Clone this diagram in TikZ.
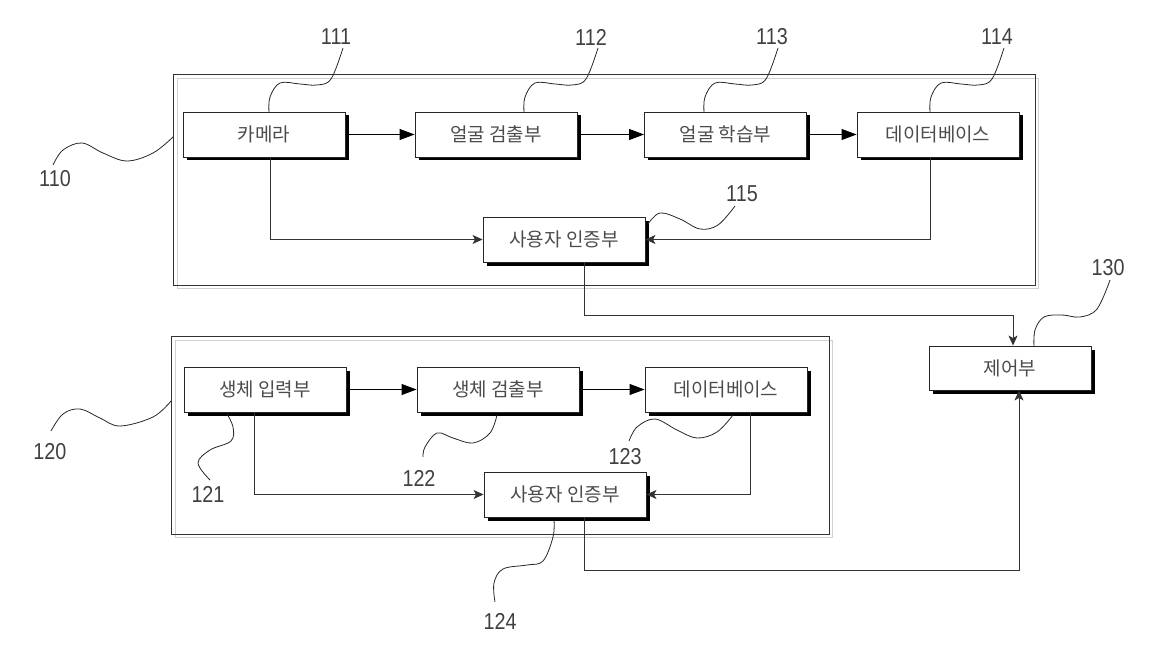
\documentclass[tikz,border=0pt]{standalone}
\usepackage{fontspec}
\newfontfamily\kr{Noto Sans CJK KR}
\newfontfamily\numf[FakeStretch=0.86]{Liberation Sans}
\usetikzlibrary{arrows.meta,shadows,calc}
\begin{document}
\begin{tikzpicture}[x=1pt,y=-1pt,
  box/.style={draw=black!85, fill=white, line width=0.9pt, minimum width=162pt, minimum height=45pt, inner sep=0pt,
    font=\kr\fontsize{19}{22}\selectfont, text=black!70,
    drop shadow={shadow xshift=3.5pt, shadow yshift=-3.5pt, fill=black, opacity=1}},
  frame/.style={draw=black!80, line width=0.9pt, inner sep=0pt},
  fshadow/.style={draw=black!18, line width=0.9pt},
  num/.style={font=\numf\fontsize{23}{26}\selectfont, text=black!75, inner sep=0pt},
  big/.style={-{Triangle[length=15pt,width=11pt]}, line width=0.9pt, black},
  small/.style={-{Stealth[length=10pt,width=9pt,inset=2.5pt]}, line width=0.9pt, black!80},
  lead/.style={line width=0.8pt, black!85},
]
\useasboundingbox (0,0) rectangle (1162,650);

% frames
\draw[fshadow] (177,78) rectangle (1038,288);
\draw[fshadow] (175,340) rectangle (832,537);
\node[frame, minimum width=862pt, minimum height=211pt] (f1) at (604,179.5) {};
\node[frame, minimum width=658pt, minimum height=198pt] (f2) at (500,435) {};

% boxes
\node[box] (cam) at (264,134.5) {카메라};
\node[box] (det) at (496,134.5) {얼굴 검출부};
\node[box] (lrn) at (725.5,134.5) {얼굴 학습부};
\node[box] (db1) at (938,134.5) {데이터베이스};
\node[box] (au1) at (564,239.5) {사용자 인증부};
\node[box, minimum height=44pt] (ctl) at (1010,368) {제어부};
\node[box] (bio) at (265,389.5) {생체 입력부};
\node[box] (bdt) at (498,389.5) {생체 검출부};
\node[box] (db2) at (726,389.5) {데이터베이스};
\node[box] (au2) at (565,494.5) {사용자 인증부};

% connectors
\draw[big] (cam) -- (det);
\draw[big] (det) -- (lrn);
\draw[big] (lrn) -- (db1);
\draw[small] ($(cam.south)+(6,0)$) |- (au1.west);
\draw[small] ($(db1.south)+(-8,0)$) |- (au1.east);
\coordinate (k1) at (584,315);
\draw[small] (au1.south -| k1) -- (k1) -| ($(ctl.north)+(3,0)$);

\draw[big] (bio) -- (bdt);
\draw[big] (bdt) -- (db2);
\draw[small] ($(bio.south)+(-11,0)$) |- (au2.west);
\draw[small] ($(db2.south)+(24,0)$) |- (au2.east);
\coordinate (k2) at (584,570);
\draw[small] (au2.south -| k2) -- (k2) -| ($(ctl.south)+(9,0)$);

% labels
\node[num] (n111) at (336,37) {111};
\node[num] (n112) at (591,37) {112};
\node[num] (n113) at (772,37) {113};
\node[num] (n114) at (997,37) {114};
\node[num] (n115) at (742,194) {115};
\node[num] (n110) at (55,179) {110};
\node[num] (n120) at (50,452) {120};
\node[num] (n121) at (208,494) {121};
\node[num] (n122) at (419,478) {122};
\node[num] (n123) at (625,457) {123};
\node[num] (n124) at (500,621) {124};
\node[num] (n130) at (1108,268) {130};

% leaders
\draw[lead] plot[smooth, tension=0.6] coordinates {(269,112) (270,97) (280,83) (300,84) (317,85) (331,79) (343,48)};
\draw[lead] plot[smooth, tension=0.6] coordinates {(524,112) (525,97) (535,83) (555,84) (572,85) (586,79) (598,48)};
\draw[lead] plot[smooth, tension=0.6] coordinates {(704,112) (705,97) (715,83) (735,84) (752,85) (766,79) (778,48)};
\draw[lead] plot[smooth, tension=0.6] coordinates {(930,112) (931,97) (941,83) (961,84) (978,85) (992,79) (1004,48)};
\draw[lead] plot[smooth, tension=0.6] coordinates {(1034,347) (1035,330) (1044,317) (1062,315) (1080,317) (1097,309) (1110,280)};
\draw[lead] plot[smooth, tension=0.6] coordinates {(648,224) (660,213) (680,219) (700,229) (718,225) (735,206)};
\draw[lead] plot[smooth, tension=0.6] coordinates {(173,137) (153,153) (127,161) (103,153) (82,143) (63,150) (53,165)};
\draw[lead] plot[smooth, tension=0.6] coordinates {(171,401) (153,417) (120,426) (100,418) (80,409) (63,414) (51,431)};
\draw[lead] plot[smooth, tension=0.6] coordinates {(227,414) (233,427) (231,441) (210,450) (198,463) (210,480)};
\draw[lead] plot[smooth, tension=0.6] coordinates {(497,415) (490,433) (473,443) (453,438) (437,433) (425,447) (423,457)};
\draw[lead] plot[smooth, tension=0.6] coordinates {(733,415) (717,432) (697,438) (677,430) (655,419) (637,427) (629,441)};
\draw[lead] plot[smooth, tension=0.6] coordinates {(554,520) (553,537) (543,561) (527,565) (503,569) (494,583) (495,602)};
\end{tikzpicture}
\end{document}
